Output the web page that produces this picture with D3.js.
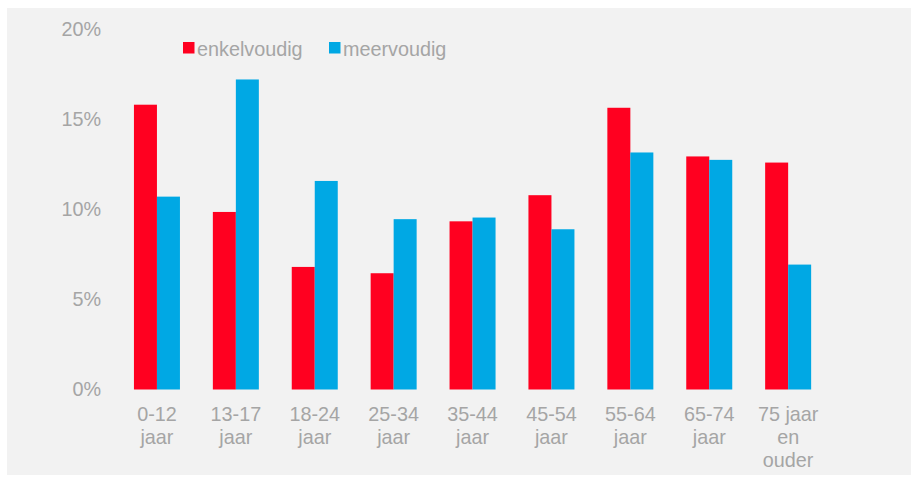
<!DOCTYPE html>
<html>
<head>
<meta charset="utf-8">
<script src="https://cdn.jsdelivr.net/npm/d3@7"></script>
<style>
  html, body { margin: 0; padding: 0; background: #ffffff; }
  svg { display: block; }
  text { font-family: "Liberation Sans", Arial, sans-serif; }
</style>
</head>
<body>
<svg id="chart" width="911" height="477"></svg>
<script>
const categories = ["0-12 jaar", "13-17 jaar", "18-24 jaar", "25-34 jaar", "35-44 jaar", "45-54 jaar", "55-64 jaar", "65-74 jaar", "75 jaar en ouder"];
const categoryLines = [["0-12", "jaar"], ["13-17", "jaar"], ["18-24", "jaar"], ["25-34", "jaar"], ["35-44", "jaar"], ["45-54", "jaar"], ["55-64", "jaar"], ["65-74", "jaar"], ["75 jaar", "en", "ouder"]];
const seriesNames = ["enkelvoudig", "meervoudig"];
const enkelvoudig = [15.8, 9.85, 6.8, 6.45, 9.33, 10.78, 15.63, 12.93, 12.59];
const meervoudig = [10.7, 17.2, 11.57, 9.45, 9.54, 8.89, 13.15, 12.74, 6.93];
const yTicks = [0, 5, 10, 15, 20];
const colors = ["#ff0020", "#00a8e4"];

const svg = d3.select("#chart");
const W = 911, H = 477;
svg.append("rect").attr("x", 7).attr("y", 8).attr("width", W - 7).attr("height", H - 10).attr("fill", "#f2f2f2");

const y = d3.scaleLinear().domain([0, 20]).range([389.5, 29]);
const x0 = d3.scaleBand().domain(categories).range([117.5, 827.6]).paddingInner(0.417).paddingOuter(0.2085);
const x1 = d3.scaleBand().domain(seriesNames).range([0, x0.bandwidth()]);

const textColor = "#a5a5a5";
const fs = 19.8;

// y axis
const yAxis = svg.append("g").attr("transform", "translate(109,0)")
  .call(d3.axisLeft(y).tickValues(yTicks).tickSize(0).tickPadding(8).tickFormat(d => d + "%"));
yAxis.select(".domain").remove();
yAxis.selectAll("text").attr("fill", textColor).attr("font-size", fs)
  .style("font-family", "'Liberation Sans', Arial, sans-serif");

// bars
const data = categories.map((c, i) => ({ c, vals: [enkelvoudig[i], meervoudig[i]] }));
const groups = svg.append("g").selectAll("g").data(data).join("g")
  .attr("transform", d => `translate(${x0(d.c)},0)`);
groups.selectAll("rect").data(d => d.vals.map((v, j) => ({ s: seriesNames[j], v, j })))
  .join("rect")
  .attr("x", d => x1(d.s))
  .attr("width", x1.bandwidth())
  .attr("y", d => y(d.v))
  .attr("height", d => y(0) - y(d.v))
  .attr("fill", d => colors[d.j]);

// x axis
const xAxis = svg.append("g").attr("transform", `translate(0,${y(0)})`)
  .call(d3.axisBottom(x0).tickSize(0).tickPadding(0));
xAxis.select(".domain").remove();
xAxis.selectAll(".tick text").each(function(d, i) {
  const t = d3.select(this);
  t.text(null).attr("y", 0).attr("dy", null)
    .attr("fill", textColor).attr("font-size", fs)
    .style("font-family", "'Liberation Sans', Arial, sans-serif");
  categoryLines[i].forEach((ln, k) => {
    t.append("tspan").attr("x", 0).attr("y", 31 + k * 23).text(ln);
  });
});

// legend
const legendX = [183, 329];
const legend = svg.append("g");
seriesNames.forEach((s, i) => {
  legend.append("rect").attr("x", legendX[i]).attr("y", 42).attr("width", 11.5).attr("height", 11.5).attr("fill", colors[i]);
  legend.append("text").attr("x", legendX[i] + 14).attr("y", 55.5).attr("fill", textColor)
    .attr("font-size", fs).text(s);
});
</script>
</body>
</html>
